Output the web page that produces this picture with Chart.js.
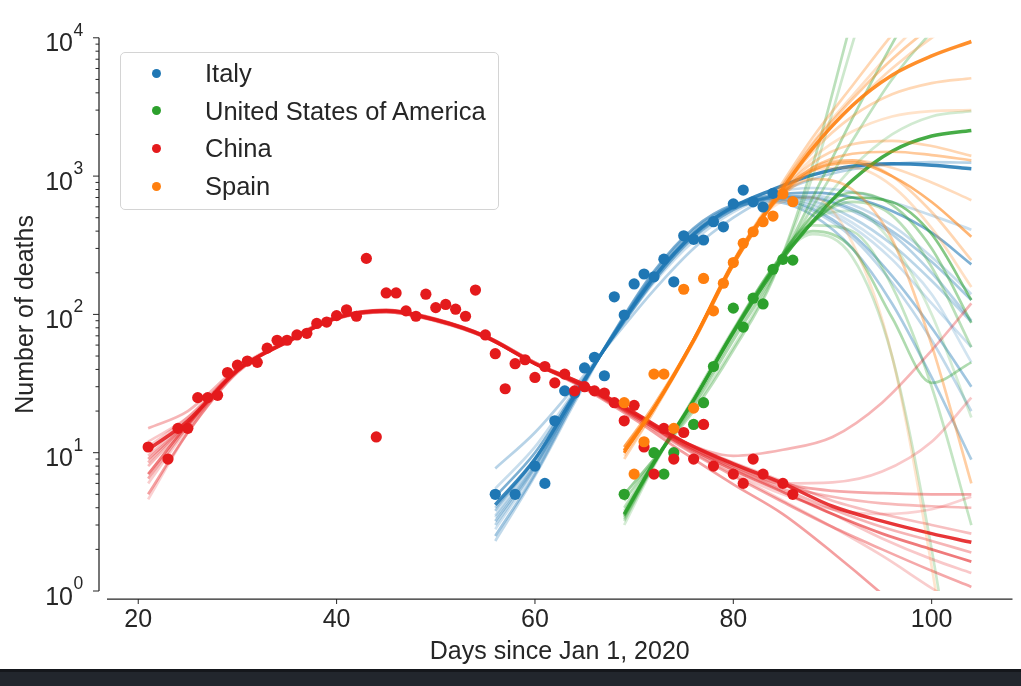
<!DOCTYPE html>
<html>
<head>
<meta charset="utf-8">
<script src="https://cdn.jsdelivr.net/npm/chart.js@4.4.1/dist/chart.umd.min.js"></script>
<style>
  body { margin: 0; width: 1021px; height: 686px; overflow: hidden; position: relative; background: #fff;
         font-family: "Liberation Sans", Arial, sans-serif; color: #262626; }
  #wrap { position: absolute; left: 0; top: 0; width: 1021px; height: 669px; }
  #bar { position: absolute; left: 0; top: 669px; width: 1021px; height: 14px; background: #22262d; border-top: 3px solid #15171c; }
  #legend { position: absolute; left: 120px; top: 52px; width: 377px; height: 156px; border: 1px solid #d4d4d4;
            border-radius: 5px; background: rgba(255,255,255,0.8); }
  .row { position: absolute; left: 0; height: 30px; line-height: 30px; font-size: 25.5px; white-space: nowrap; }
  .dot { position: absolute; left: 31px; top: 10.5px; width: 9px; height: 9px; border-radius: 50%; }
  .lbl { position: absolute; left: 84px; top: 0; }
</style>
</head>
<body>
<div id="wrap"><canvas id="chart"></canvas></div>
<div id="legend"></div>
<div id="bar"></div>
<script>
// observed daily deaths
const chinaDays = [21,23,24,25,26,27,28,29,30,31,32,33,34,35,36,37,38,39,40,41,42,43,44,45,46,47,48,49,50,51,52,53,54,55,56,57,58,59,60,61,62,63,64,65,66,67,68,69,70,71,72,73,74,75,76,77,78,80,81,82,83,85,86];
const chinaDeaths = [11,9,15,15,25,25,26,38,43,46,45,57,65,65,71,73,86,88,98,108,97,254,13,143,143,106,97,140,112,118,109,97,150,71,52,29,44,47,35,42,32,37,28,30,28,27,23,17,22,11,7,15,9,14,9,16,8,7,6,9,7,6,5];
const italyDays = [56,58,60,61,62,63,64,65,66,67,68,69,70,71,72,73,74,75,76,77,78,79,80,81,82,83,84];
const italyDeaths = [5,5,8,6,17,28,27,41,49,36,134,99,166,196,187,251,172,370,349,345,468,430,630,793,652,598,751];
const usaDays = [69,72,73,74,76,77,78,80,81,82,83,84,85,86];
const usaDeaths = [5,10,7,10,16,23,42,111,81,131,119,212,250,247];
const spainDays = [69,70,71,72,73,74,75,76,77,78,79,80,81,82,83,84,85,86];
const spainDeaths = [23,7,12,37,37,15,152,21,182,106,168,237,327,396,468,514,742,653];

// fitted curves at these days
const chinaFitDays = [21,25,30,35,40,45,50,55,60,65,70,75,80,85,90,95,100,104];
const chinaFit = [10.5,17,39.6,63,94,106,91,69,44,31,19.5,12,8.3,6,4.1,3.2,2.6,2.25];
const chinaBoot = [
  [15,20,41,65,95,104,90,68,44,30,19,12,9.5,10.5,13,23,55,120],
  [12,18,40,64,94,105,90,68,44,30,19,11.5,8,6,6.1,7.3,12,25],
  [9,16.5,40,64,95,107,92,70,45,31,19.5,12,8.2,6,5.3,5.1,5.0,5.0],
  [8,16,39,64,95,107,92,70,45,31,19.5,11.8,8,5.8,4.8,4.3,4.1,4.0],
  [6,15,39,65,96,108,93,70,45,30,18.5,11,7,4.5,2.9,1.8,1.05,0.7],
  [5,14,38,64,96,108,93,70,44,29,17.5,10,5.9,3.6,1.9,0.95,0.45,0.25],
  [9.5,17,39,63,93,104,90,68,44,30.5,19,12,8.5,6.2,4.5,3.6,3.0,2.6],
  [7,16,39,63,94,106,91,69,44,30,18.5,11.3,7.5,5.2,3.6,2.6,2.0,1.63],
  [8.5,16.5,39.5,64,95,106,91,69,44,30,19,11.6,7.8,5.5,3.9,2.9,2.3,1.9],
  [11,18,40,63,93,104,89,68,44,30,19,11.7,7.7,5.3,3.6,2.4,1.7,1.35],
  [6.5,15.5,39,64,95,107,92,69,44,29.5,18,10.8,6.8,4.4,2.9,2.0,1.4,1.07],
  [4.6,14,38.5,65,97,108,92,69,44,29.5,18.5,11.2,7.2,5,3.9,3.6,3.9,4.8]
];
const italyFitDays = [56,60,64,68,72,76,80,84,88,92,96,100,104];
const italyFit = [4.2,9,26,72,185,380,600,800,1020,1180,1230,1200,1130];
const italyBoot = [
  [7.7,14,30,68,150,300,500,730,950,1120,1220,1260,1250],
  [3.5,8.5,25,72,185,380,600,760,820,770,650,520,410],
  [3.2,8,25,73,190,390,600,720,700,580,400,240,127],
  [3.0,7.8,25,74,195,400,610,710,660,500,320,175,88],
  [2.8,7.5,24,74,200,410,610,690,610,430,250,120,58],
  [2.5,7,24,75,205,420,620,680,580,380,190,80,30],
  [2.3,6.8,23,75,205,420,620,670,560,360,170,65,20],
  [4.8,10,27,70,175,360,570,720,760,700,560,390,230],
  [4.0,9,26,71,180,370,580,700,690,560,380,200,90],
  [5.5,11,28,70,170,340,550,700,720,620,440,260,140],
  [3.8,9,26,72,185,380,590,650,520,300,120,35,8.9],
  [3.4,8.2,25,73,190,390,600,690,630,460,280,140,45]
];
const usaFitDays = [69,72,76,80,84,88,92,96,100,104];
const usaFit = [3.6,8.5,24,74,204,468,933,1514,1950,2140];
const usaBoot = [
  [5,9,20,55,180,1200,14000,150000,1e6,5e6],
  [5,9,21,58,185,1000,9000,80000,5e5,2e6],
  [4.5,8.8,22,65,190,700,2600,9000,28000,80000],
  [4,8.6,23,70,200,600,1800,5000,11000,20000],
  [3.8,8.5,24,72,205,520,1150,2000,2700,2950],
  [3.5,8.4,24,75,215,520,760,620,300,87],
  [3.3,8.2,24,76,220,440,400,160,30,3],
  [3.6,8.5,24,74,210,460,700,650,380,127],
  [3.4,8.3,24,75,215,470,650,520,220,58],
  [3.2,8.2,25,78,215,380,260,50,2.0,0.03],
  [3.5,8.4,24,76,210,400,300,95,32,45],
  [3.0,8,25,77,220,480,560,330,100,18]
];
const spainFitDays = [69,72,76,80,84,88,92,96,100,104];
const spainFit = [10.3,21,65,230,640,1585,3240,5370,7400,9400];
const spainBoot = [
  [9,20,65,240,700,1900,4500,10500,22000,40000],
  [10,21,64,235,680,1750,3800,8000,15000,25000],
  [11,21,63,230,670,1700,3600,7000,12000,18000],
  [10.5,21,64,230,650,1500,2700,3900,4700,5100],
  [10,21,65,235,640,1350,2100,2700,2950,3000],
  [10,21,66,240,640,1150,1450,1500,1420,1300],
  [11,22,66,235,620,1100,1300,1150,900,670],
  [10,21,66,240,630,1100,1250,1000,650,364],
  [10.5,21,65,240,640,1150,1300,1000,550,247],
  [10,21,66,245,650,1100,1150,850,420,158],
  [11,22,66,240,620,950,800,350,60,6],
  [9.5,20,64,240,600,700,330,50,1.5,0.02],
  [10,21,65,238,660,1600,3200,6000,10000,15000],
  [10,21,65,236,650,1250,1700,1800,1650,1400]
];

// axes
const xTicks = [20, 40, 60, 80, 100];
const yPowers = [0, 1, 2, 3, 4];

const countries = [
  { name: 'Italy', color: [31,119,180], days: italyDays, deaths: italyDeaths, fitDays: italyFitDays, fit: italyFit, boot: italyBoot },
  { name: 'United States of America', color: [44,160,44], days: usaDays, deaths: usaDeaths, fitDays: usaFitDays, fit: usaFit, boot: usaBoot },
  { name: 'China', color: [228,26,28], days: chinaDays, deaths: chinaDeaths, fitDays: chinaFitDays, fit: chinaFit, boot: chinaBoot },
  { name: 'Spain', color: [255,127,14], days: spainDays, deaths: spainDeaths, fitDays: spainFitDays, fit: spainFit, boot: spainBoot }
];

const bootAlpha = [0.32, 0.24, 0.38, 0.3, 0.22, 0.42, 0.28, 0.58, 0.32, 0.24, 0.38, 0.2, 0.28, 0.32];
const rgba = (c, a) => `rgba(${c[0]},${c[1]},${c[2]},${a})`;
const pts = (xs, ys) => xs.map((x, i) => ({ x: x, y: ys[i] }));

function curve(days, vals, color, alpha, width) {
  return {
    type: 'line', data: pts(days, vals), borderColor: rgba(color, alpha), borderWidth: width,
    pointRadius: 0, fill: false, cubicInterpolationMode: 'monotone', capBezierPoints: false, clip: 0
  };
}

// bottom to top drawing order
const layers = [];
countries.forEach(c => {
  c.boot.forEach((b, i) => layers.push(curve(c.fitDays, b, c.color, bootAlpha[i % bootAlpha.length], 2.7)));
  layers.push(curve(c.fitDays, c.fit, c.color, 0.88, 3.5));
});
countries.forEach(c => {
  layers.push({
    type: 'scatter', data: pts(c.days, c.deaths), showLine: false,
    pointRadius: 5.6, pointHoverRadius: 5.6, pointBorderWidth: 0, pointBackgroundColor: rgba(c.color, 1)
  });
});

// legend
const legend = document.getElementById('legend');
countries.forEach((c, i) => {
  const row = document.createElement('div');
  row.className = 'row';
  row.style.top = (5 + i * 37.7) + 'px';
  row.innerHTML = `<span class="dot" style="background:${rgba(c.color, 1)}"></span><span class="lbl">${c.name}</span>`;
  legend.appendChild(row);
});

const FONT = '"Liberation Sans", Arial, sans-serif';
const INK = '#262626';

// offset spines, ticks and 10^n labels
const spines = {
  id: 'spines',
  afterDraw(chart) {
    const { ctx, chartArea: a, scales: { x, y } } = chart;
    const sx = a.left - 8, sy = a.bottom + 8;
    ctx.save();
    ctx.strokeStyle = INK;
    ctx.lineWidth = 1.25;
    ctx.beginPath();
    ctx.moveTo(sx, a.top); ctx.lineTo(sx, a.bottom);
    ctx.moveTo(a.left, sy); ctx.lineTo(a.right, sy);
    ctx.stroke();
    ctx.lineWidth = 1;
    ctx.beginPath();
    y.ticks.forEach(t => {
      const p = y.getPixelForValue(t.value);
      const major = Number.isInteger(Math.log10(t.value));
      ctx.moveTo(sx, p); ctx.lineTo(sx - (major ? 6 : 3.5), p);
    });
    x.ticks.forEach(t => {
      const p = x.getPixelForValue(t.value);
      ctx.moveTo(p, sy); ctx.lineTo(p, sy + 5);
    });
    ctx.stroke();
    ctx.fillStyle = INK;
    ctx.textBaseline = 'alphabetic';
    yPowers.forEach(k => {
      const p = y.getPixelForValue(Math.pow(10, k));
      ctx.font = '25px ' + FONT;
      ctx.textAlign = 'right';
      ctx.fillText('10', 73, p + 13.5);
      ctx.font = '17.5px ' + FONT;
      ctx.textAlign = 'left';
      ctx.fillText(String(k), 73.5, p - 2);
    });
    ctx.restore();
  }
};

const yTickValues = [];
yPowers.forEach(k => {
  if (k === 4) { yTickValues.push(10000); return; }
  for (let m = 1; m < 10; m++) yTickValues.push(m * Math.pow(10, k));
});

new Chart(document.getElementById('chart'), {
  data: { datasets: layers.reverse() },
  options: {
    responsive: true,
    maintainAspectRatio: false,
    animation: false,
    events: [],
    layout: { padding: { top: 37.8, right: 8.5, left: 0, bottom: 0 } },
    plugins: { legend: { display: false }, tooltip: { enabled: false } },
    scales: {
      x: {
        type: 'linear', min: 16.85, max: 108.15,
        grid: { display: false, drawTicks: false },
        border: { display: false },
        afterBuildTicks: s => { s.ticks = xTicks.map(v => ({ value: v })); },
        afterFit: s => { s.height = 78; },
        ticks: { padding: 14, color: INK, font: { family: FONT, size: 25 }, autoSkip: false, maxRotation: 0 },
        title: { display: true, text: 'Days since Jan 1, 2020', color: INK, font: { family: FONT, size: 25 }, padding: { top: 0, bottom: 2 } }
      },
      y: {
        type: 'logarithmic', min: 1, max: 10000,
        grid: { display: false, drawTicks: false },
        border: { display: false },
        afterBuildTicks: s => { s.ticks = yTickValues.map(v => ({ value: v })); },
        afterFit: s => { s.width = 107; },
        ticks: { display: false, autoSkip: false },
        title: { display: true, text: 'Number of deaths', color: INK, font: { family: FONT, size: 25 }, padding: { top: 11, bottom: 0 } }
      }
    }
  },
  plugins: [spines]
});
</script>
</body>
</html>
